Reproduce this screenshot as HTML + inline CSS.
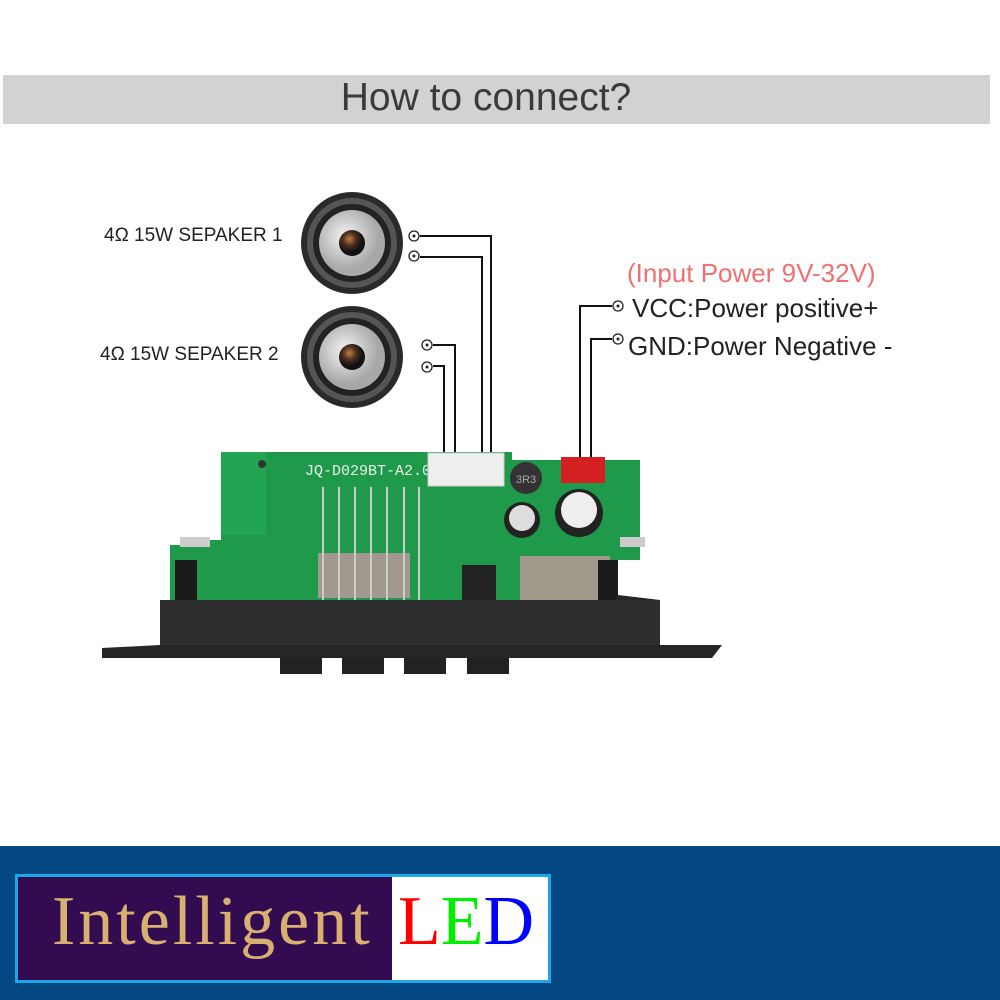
<!DOCTYPE html>
<html><head><meta charset="utf-8"><style>
body{margin:0;width:1000px;height:1000px;background:#fff;position:relative;overflow:hidden;font-family:"Liberation Sans",sans-serif}
.t{position:absolute;white-space:nowrap}
</style></head><body>
<div style="position:absolute;left:3px;top:75px;width:987px;height:49px;background:#d3d1d1"></div>
<div class="t" style="left:0;width:972px;top:76px;text-align:center;font-size:39px;color:#3a3a3a">How to connect?</div>
<div class="t" style="left:104px;top:225px;font-size:19px;color:#222">4Ω 15W SEPAKER 1</div>
<div class="t" style="left:100px;top:344px;font-size:19px;color:#222">4Ω 15W SEPAKER 2</div>
<div class="t" style="left:627px;top:258px;font-size:26px;color:#f07070">(Input Power 9V-32V)</div>
<div class="t" style="left:632px;top:293px;font-size:26px;color:#222">VCC:Power positive+</div>
<div class="t" style="left:628px;top:331px;font-size:26px;color:#222">GND:Power Negative -</div>
<svg width="1000" height="1000" style="position:absolute;left:0;top:0">
<defs>
<radialGradient id="cone" cx="0.4" cy="0.4"><stop offset="0" stop-color="#f4f4f4"/><stop offset="1" stop-color="#a8a8a8"/></radialGradient>
<radialGradient id="dome" cx="0.4" cy="0.35"><stop offset="0" stop-color="#c08040"/><stop offset="0.5" stop-color="#503020"/><stop offset="1" stop-color="#111"/></radialGradient>
</defs>
<circle cx="352" cy="243" r="51" fill="#2a2a2a"/><circle cx="352" cy="243" r="45" fill="#555"/><circle cx="352" cy="243" r="39" fill="#222"/><circle cx="352" cy="243" r="33" fill="url(#cone)"/><circle cx="352" cy="243" r="13" fill="url(#dome)"/>
<circle cx="352" cy="357" r="51" fill="#2a2a2a"/><circle cx="352" cy="357" r="45" fill="#555"/><circle cx="352" cy="357" r="39" fill="#222"/><circle cx="352" cy="357" r="33" fill="url(#cone)"/><circle cx="352" cy="357" r="13" fill="url(#dome)"/>
<g fill="none" stroke="#111" stroke-width="2">
<polyline points="420,236 491,236 491,470"/><polyline points="420,257 482,257 482,470"/>
<polyline points="433,345 455,345 455,470"/><polyline points="433,366 444,366 444,470"/>
<polyline points="612,306 580,306 580,465"/><polyline points="612,339 591,339 591,465"/>
</g>
<g fill="#fff" stroke="#222" stroke-width="1.3">
<circle cx="414" cy="236" r="5"/><circle cx="414" cy="256" r="5"/><circle cx="427" cy="345" r="5"/><circle cx="427" cy="367" r="5"/><circle cx="618" cy="306" r="5"/><circle cx="618" cy="339" r="5"/>
</g>
<g fill="#222"><circle cx="414" cy="236" r="1.5"/><circle cx="414" cy="256" r="1.5"/><circle cx="427" cy="345" r="1.5"/><circle cx="427" cy="367" r="1.5"/><circle cx="618" cy="306" r="1.5"/><circle cx="618" cy="339" r="1.5"/></g>
<path d="M221,452 L512,452 L512,460 L640,460 L640,560 L615,560 L615,600 L170,600 L170,545 L190,545 L190,540 L221,540 Z" fill="#1f9a4a"/>
<rect x="221" y="452" width="45" height="83" fill="#22a552"/>
<rect x="180" y="537" width="30" height="10" fill="#ccc"/><rect x="620" y="537" width="25" height="10" fill="#ccc"/>
<circle cx="262" cy="464" r="4" fill="#333"/>
<text x="305" y="475" font-family="Liberation Mono,monospace" font-size="15" fill="#e8f0e8">JQ-D029BT-A2.0</text>
<rect x="428" y="453" width="76" height="33" fill="#eee" stroke="#ccc"/>
<rect x="561" y="457" width="44" height="26" fill="#d42020"/>
<circle cx="526" cy="478" r="16" fill="#333"/><text x="516" y="483" font-size="11" fill="#aaa">3R3</text>
<circle cx="522" cy="520" r="18" fill="#222"/><circle cx="522" cy="518" r="13" fill="#ddd"/>
<circle cx="579" cy="513" r="24" fill="#222"/><circle cx="579" cy="510" r="18" fill="#eee"/>
<rect x="318" y="553" width="92" height="45" fill="#a09a8e"/>
<rect x="520" y="556" width="90" height="44" fill="#a0988a"/>
<rect x="462" y="565" width="34" height="35" fill="#222"/>
<g stroke="#ccc" stroke-width="2"><line x1="323" y1="487" x2="323" y2="600"/><line x1="339" y1="487" x2="339" y2="600"/><line x1="355" y1="487" x2="355" y2="600"/><line x1="371" y1="487" x2="371" y2="600"/><line x1="387" y1="487" x2="387" y2="600"/><line x1="404" y1="487" x2="404" y2="604"/><line x1="419" y1="487" x2="419" y2="604"/></g>
<rect x="175" y="560" width="22" height="50" fill="#1a1a1a"/><rect x="598" y="560" width="20" height="50" fill="#1a1a1a"/>
<path d="M160,600 L615,600 L618,595 L660,600 L660,645 L722,645 L712,658 L102,658 L102,648 L160,645 Z" fill="#262626"/>
<rect x="160" y="600" width="500" height="45" fill="#2e2e2e"/>
<rect x="280" y="658" width="42" height="16" fill="#222"/><rect x="342" y="658" width="42" height="16" fill="#222"/><rect x="404" y="658" width="42" height="16" fill="#222"/><rect x="467" y="658" width="42" height="16" fill="#222"/>
</svg>
<div style="position:absolute;left:0;top:846px;width:1000px;height:154px;background:#034883"></div>
<div style="position:absolute;left:15px;top:874px;width:530px;height:103px;border:3px solid #1ea6e6;background:#fff"></div>
<div style="position:absolute;left:18px;top:877px;width:374px;height:103px;background:#330b50"></div>
<div class="t" style="left:52px;top:882px;font-family:'Liberation Serif',serif;font-size:70px;letter-spacing:3px;color:#d8b070">Intelligent</div>
<div class="t" style="left:398px;top:882px;font-family:'Liberation Serif',serif;font-size:70px"><span style="color:#f00">L</span><span style="color:#0e0">E</span><span style="color:#00f">D</span></div>
</body></html>
